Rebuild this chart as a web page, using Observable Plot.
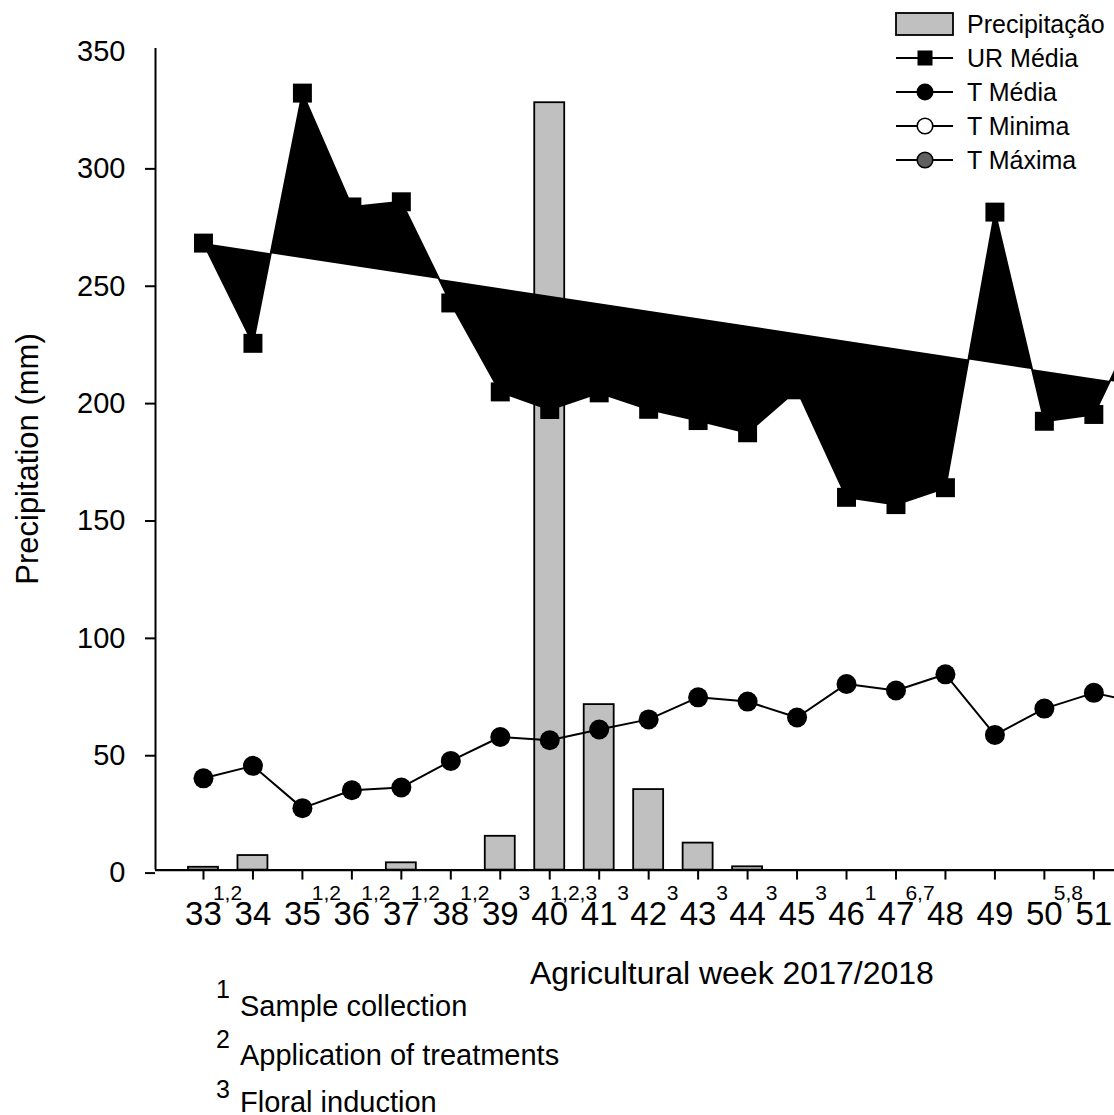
<!DOCTYPE html>
<html>
<head>
<meta charset="utf-8">
<script src="https://cdn.jsdelivr.net/npm/d3@7"></script>
<script src="https://cdn.jsdelivr.net/npm/@observablehq/plot@0.6"></script>
<style>
html, body { margin: 0; padding: 0; background: #fff; overflow: hidden; width: 1114px; height: 1115px; }
#wrap { position: relative; width: 1114px; height: 1115px; overflow: hidden; background: #fff; }
#chart { position: absolute; left: 0; top: 0; width: 1300px; }
#chart svg { max-width: none !important; }
#overlay { position: absolute; left: 0; top: 0; }
</style>
</head>
<body>
<div id="wrap"><div id="chart"></div></div>
<script>
const FONT = "'Liberation Sans', Arial, Helvetica, sans-serif";

// ---- data ----
const weeks = ["33","34","35","36","37","38","39","40","41","42","43","44","45","46","47","48","49","50","51","52","1"];
const weekNotes = ["1,2","","1,2","1,2","1,2","1,2","3","1,2,3","3","3","3","3","3","1","6,7","","","5,8","","",""];
const precipitation = [1.2, 6.2, 0, 0, 3.1, 0, 14.4, 326.9, 70.5, 34.3, 11.5, 1.4, 0, 0, 0, 0, 0, 0, 0, 0, 0];
const urMedia = [267.1, 224.4, 331.0, 282.5, 284.7, 241.6, 203.7, 196.2, 203.3, 196.3, 191.5, 186.3, 204.6, 158.8, 155.7, 162.9, 280.3, 191.2, 194.1, 238, 203];
const tMedia = [39.1, 44.4, 26.4, 34.0, 35.2, 46.5, 56.7, 55.3, 59.9, 64.2, 73.6, 71.8, 65.0, 79.3, 76.5, 83.4, 57.6, 68.8, 75.5, 71, 70];
const yTicks = [0, 50, 100, 150, 200, 250, 300];
const yTop = 350;

const legendLabels = ["Precipitação", "UR Média", "T Média", "T Minima", "T Máxima"];
const noteKeys = ["1", "2", "3"];
const noteTexts = ["Sample collection", "Application of treatments", "Floral induction"];

const idx = d3.range(weeks.length);
const xDomain = [-0.97, 20.5];
const step = 49.45;
const mLeft = 155;
const W = Math.round(mLeft + (xDomain[1] - xDomain[0]) * step);

const chart = Plot.plot({
  width: W,
  height: 1000,
  marginLeft: mLeft,
  marginRight: 0,
  marginTop: 48,
  marginBottom: 130.4,
  style: { fontFamily: FONT, fontSize: "29px", color: "black", background: "transparent", overflow: "visible", maxWidth: "none" },
  x: { type: "linear", domain: xDomain, axis: null },
  y: { domain: [0, yTop], axis: null },
  marks: [
    // bars
    Plot.rectY(idx.filter(i => precipitation[i] > 0), {
      x1: i => i - 0.303, x2: i => i + 0.303, y: i => precipitation[i],
      fill: "#c0c0c0", stroke: "black", strokeWidth: 1.8
    }),
    // UR Média filled path (closed back to first point)
    Plot.line(idx, { x: i => i, y: i => urMedia[i], stroke: "black", fill: "black", strokeWidth: 2 }),
    Plot.dot(idx, { x: i => i, y: i => urMedia[i], symbol: "square", r: 10.7, fill: "black" }),
    // T Média
    Plot.line(idx, { x: i => i, y: i => tMedia[i], stroke: "black", strokeWidth: 2 }),
    Plot.dot(idx, { x: i => i, y: i => tMedia[i], r: 10, fill: "black" }),
    // axes lines
    Plot.ruleX([xDomain[0]], { y1: 0, y2: yTop, stroke: "black", strokeWidth: 2 }),
    Plot.ruleY([0], { stroke: "black", strokeWidth: 2.2 }),
    Plot.axisY({ ticks: yTicks, tickSize: 10, tickPadding: 20, fontSize: 29, strokeWidth: 2, dy: 3, label: null }),
    Plot.axisY({ ticks: [yTop], tickSize: 0, tickPadding: 30, fontSize: 29, dy: 3, label: null }),
    Plot.axisX({ ticks: idx, tickSize: 10, tickFormat: () => "", strokeWidth: 2, label: null }),
    // x tick labels
    Plot.text(idx, { x: i => i, text: i => weeks[i], frameAnchor: "bottom", lineAnchor: "middle", dy: 44.8, fontSize: 33, fill: "black" }),
    Plot.text(idx.filter(i => weekNotes[i] !== ""), { x: i => i, text: i => weekNotes[i], frameAnchor: "bottom", lineAnchor: "middle", textAnchor: "middle", dx: 24, dy: 23.5, fontSize: 21, fill: "black" })
  ]
});
chart.style.maxWidth = "none";
chart.setAttribute("width", W);
chart.style.width = W + "px";
chart.style.height = "1000px";
document.getElementById("chart").appendChild(chart);

// ---- overlay: titles, legend, footnotes ----
const ov = d3.select("#wrap").append("svg")
  .attr("id", "overlay").attr("width", 1114).attr("height", 1115)
  .style("font-family", FONT);

ov.append("text").attr("transform", "translate(38,459) rotate(-90)")
  .attr("text-anchor", "middle").attr("font-size", 31).text("Precipitation (mm)");

ov.append("text").attr("x", 530).attr("y", 984).attr("font-size", 32).text("Agricultural week 2017/2018");

// legend
const lx0 = 896, lx1 = 953, lcx = 925;
const rows = [24, 58, 92, 126, 160];
ov.append("rect").attr("x", lx0).attr("y", 13).attr("width", lx1 - lx0).attr("height", 22)
  .attr("fill", "#c0c0c0").attr("stroke", "black").attr("stroke-width", 1.8);
for (let k = 1; k < 5; k++) {
  ov.append("line").attr("x1", lx0).attr("x2", lx1).attr("y1", rows[k]).attr("y2", rows[k])
    .attr("stroke", "black").attr("stroke-width", 2);
}
ov.append("rect").attr("x", lcx - 7.5).attr("y", rows[1] - 7.5).attr("width", 15).attr("height", 15).attr("fill", "black");
ov.append("circle").attr("cx", lcx).attr("cy", rows[2]).attr("r", 8.5).attr("fill", "black");
ov.append("circle").attr("cx", lcx).attr("cy", rows[3]).attr("r", 7.8).attr("fill", "white").attr("stroke", "black").attr("stroke-width", 1.6);
ov.append("circle").attr("cx", lcx).attr("cy", rows[4]).attr("r", 7.8).attr("fill", "#606060").attr("stroke", "black").attr("stroke-width", 1.6);
legendLabels.forEach((t, k) => {
  ov.append("text").attr("x", 967).attr("y", rows[k] + 8.8).attr("font-size", 25).text(t);
});

// footnotes
const supBase = [998, 1048, 1098];
const txtBase = [1016, 1065, 1112];
noteKeys.forEach((key, k) => {
  ov.append("text").attr("x", 216).attr("y", supBase[k]).attr("font-size", 25).text(key);
  ov.append("text").attr("x", 240).attr("y", txtBase[k]).attr("font-size", 29).text(noteTexts[k]);
});
</script>
</body>
</html>
